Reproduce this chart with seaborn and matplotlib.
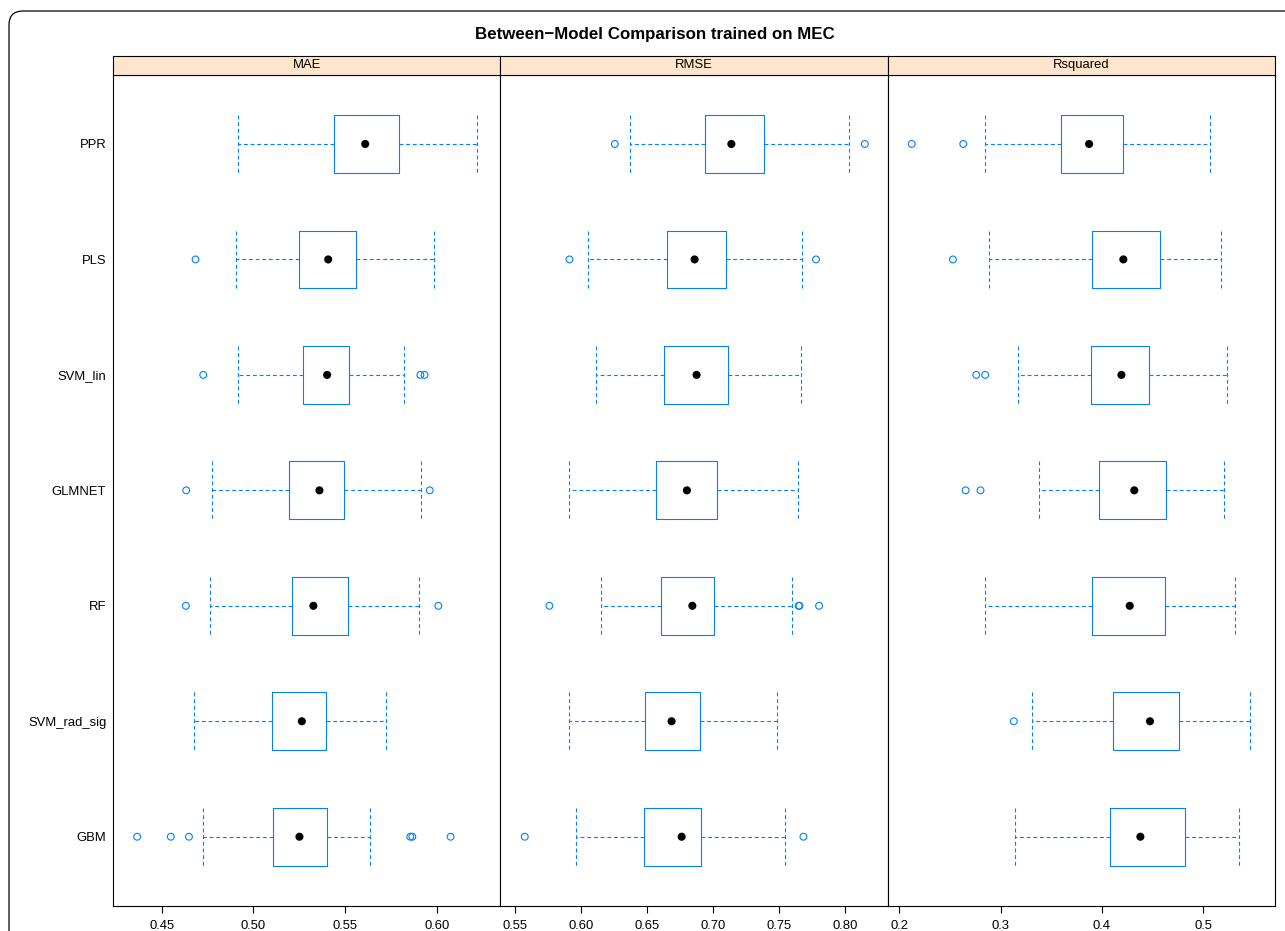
import numpy as np
import pandas as pd
import matplotlib
matplotlib.use("Agg")
import matplotlib.pyplot as plt
import seaborn as sns
from matplotlib.patches import FancyBboxPatch

# models, top to bottom
models = ["PPR", "PLS", "SVM_lin", "GLMNET", "RF", "SVM_rad_sig", "GBM"]

# MAE: whisker low, q1, median, q3, whisker high, outliers
mae_lo = [0.4914, 0.4906, 0.4914, 0.4775, 0.4762, 0.4677, 0.4724]
mae_q1 = [0.5439, 0.5247, 0.5269, 0.5194, 0.5212, 0.5103, 0.5107]
mae_med = [0.5610, 0.5408, 0.5402, 0.5360, 0.5327, 0.5264, 0.5251]
mae_q3 = [0.5797, 0.5562, 0.5519, 0.5495, 0.5517, 0.5397, 0.5400]
mae_hi = [0.6222, 0.5985, 0.5823, 0.5914, 0.5901, 0.5726, 0.5637]
mae_out = [[], [0.4684], [0.4726, 0.5911, 0.5934], [0.4633, 0.5962],
           [0.4631, 0.6009], [], [0.4365, 0.4549, 0.4648, 0.5856, 0.5867, 0.6076]]

# RMSE
rmse_lo = [0.6369, 0.6056, 0.6119, 0.5912, 0.6150, 0.5910, 0.5965]
rmse_q1 = [0.6939, 0.6651, 0.6629, 0.6568, 0.6609, 0.6488, 0.6480]
rmse_med = [0.7139, 0.6861, 0.6876, 0.6803, 0.6844, 0.6687, 0.6763]
rmse_q3 = [0.7386, 0.7098, 0.7113, 0.7028, 0.7007, 0.6901, 0.6909]
rmse_hi = [0.8029, 0.7671, 0.7666, 0.7643, 0.7600, 0.7484, 0.7545]
rmse_out = [[0.6258, 0.8148], [0.5915, 0.7779], [], [],
            [0.5763, 0.7648, 0.7654, 0.7802], [], [0.5577, 0.7684]]

# Rsquared
rsq_lo = [0.2841, 0.2884, 0.3172, 0.3382, 0.2841, 0.3313, 0.3146]
rsq_q1 = [0.3598, 0.3898, 0.3888, 0.3976, 0.3900, 0.4114, 0.4085]
rsq_med = [0.3874, 0.4212, 0.4193, 0.4320, 0.4275, 0.4475, 0.4380]
rsq_q3 = [0.4212, 0.4573, 0.4465, 0.4629, 0.4622, 0.4757, 0.4819]
rsq_hi = [0.5069, 0.5180, 0.5232, 0.5207, 0.5318, 0.5466, 0.5350]
rsq_out = [[0.2122, 0.2631], [0.2529], [0.2759, 0.2847], [0.2654, 0.2801],
           [], [0.3130], []]

metrics = ["MAE", "RMSE", "Rsquared"]
xlims = [(0.4235, 0.6348), (0.5393, 0.832), (0.1883, 0.5707)]
xticks = [[0.45, 0.50, 0.55, 0.60], [0.55, 0.60, 0.65, 0.70, 0.75, 0.80], [0.2, 0.3, 0.4, 0.5]]
xfmt = ["{:.2f}", "{:.2f}", "{:.1f}"]

panels = [
    (mae_lo, mae_q1, mae_med, mae_q3, mae_hi, mae_out),
    (rmse_lo, rmse_q1, rmse_med, rmse_q3, rmse_hi, rmse_out),
    (rsq_lo, rsq_q1, rsq_med, rsq_q3, rsq_hi, rsq_out),
]

sns.set_theme(style="white")
plt.rcParams["font.family"] = ["Liberation Sans", "DejaVu Sans"]
plt.rcParams["text.color"] = "black"
plt.rcParams["xtick.color"] = "black"
plt.rcParams["ytick.color"] = "black"
plt.rcParams["axes.edgecolor"] = "black"

blue = "#0080ff"
W, H = 1285, 931
fig = plt.figure(figsize=(W / 100, H / 100), dpi=100)

# rounded outer frame (cut off on right/bottom like the source)
frame = FancyBboxPatch((9 / 100, -0.5), 13.5, (H - 11) / 100 + 0.5,
                       boxstyle="round,pad=0,rounding_size=0.14",
                       transform=fig.dpi_scale_trans, fill=False,
                       edgecolor="black", linewidth=0.9)
fig.add_artist(frame)

fig.text(655 / W, 1 - 35 / H, "Between\u2212Model Comparison trained on MEC",
         ha="center", va="center", fontsize=12.2, fontweight="bold", color="black")

left, right = 113.3, 1274.7
pw = (right - left) / 3
bot, top, strip_top = 906, 74.7, 56
pos = list(range(len(models)))

for i, (lo, q1, med, q3, hi, out) in enumerate(panels):
    ax = fig.add_axes([(left + i * pw) / W, 1 - bot / H, pw / W, (bot - top) / H])
    stats = [dict(whislo=lo[k], q1=q1[k], med=med[k], q3=q3[k], whishi=hi[k], fliers=[])
             for k in pos]
    dash = (0, (3.5, 2.5))
    ax.bxp(stats, positions=pos, widths=0.5, orientation="horizontal",
           showfliers=False, capwidths=0.5, manage_ticks=False,
           boxprops=dict(color=blue, linewidth=0.8),
           whiskerprops=dict(color=blue, linewidth=0.8, linestyle=dash),
           capprops=dict(color=blue, linewidth=0.8, linestyle=dash),
           medianprops=dict(linewidth=0))

    sns.scatterplot(x=med, y=pos, ax=ax, color="black", s=34,
                    edgecolor="none", zorder=4, legend=False)

    ox = [v for k in pos for v in out[k]]
    oy = [k for k in pos for v in out[k]]
    if ox:
        sns.scatterplot(x=ox, y=oy, ax=ax, color="none", edgecolor=blue,
                        linewidth=0.8, s=24, zorder=4, legend=False)

    ax.set_xlim(*xlims[i])
    ax.set_ylim(6.6, -0.6)
    ax.set_xticks(xticks[i])
    ax.set_xticklabels([xfmt[i].format(t) for t in xticks[i]])
    ax.tick_params(axis="x", bottom=True, direction="out", length=5.2, width=0.8,
                   color="black", labelcolor="black", labelsize=9.4, pad=5)
    if i == 0:
        ax.set_yticks(pos)
        ax.set_yticklabels(models)
        ax.tick_params(axis="y", left=False, length=0, labelsize=9.4, pad=5,
                       labelcolor="black")
    else:
        ax.set_yticks([])
    ax.set_xlabel("")
    ax.set_ylabel("")
    for s in ax.spines.values():
        s.set_color("black")
        s.set_linewidth(0.8)

    # strip
    sax = fig.add_axes([(left + i * pw) / W, 1 - top / H, pw / W, (top - strip_top) / H])
    sax.set_facecolor("#ffe5cc")
    sax.set_xticks([])
    sax.set_yticks([])
    for s in sax.spines.values():
        s.set_color("black")
        s.set_linewidth(0.8)
    sax.text(0.5, 0.5, metrics[i], ha="center", va="center", fontsize=9.4,
             color="black", transform=sax.transAxes)

fig.savefig("out.png", dpi=100)
